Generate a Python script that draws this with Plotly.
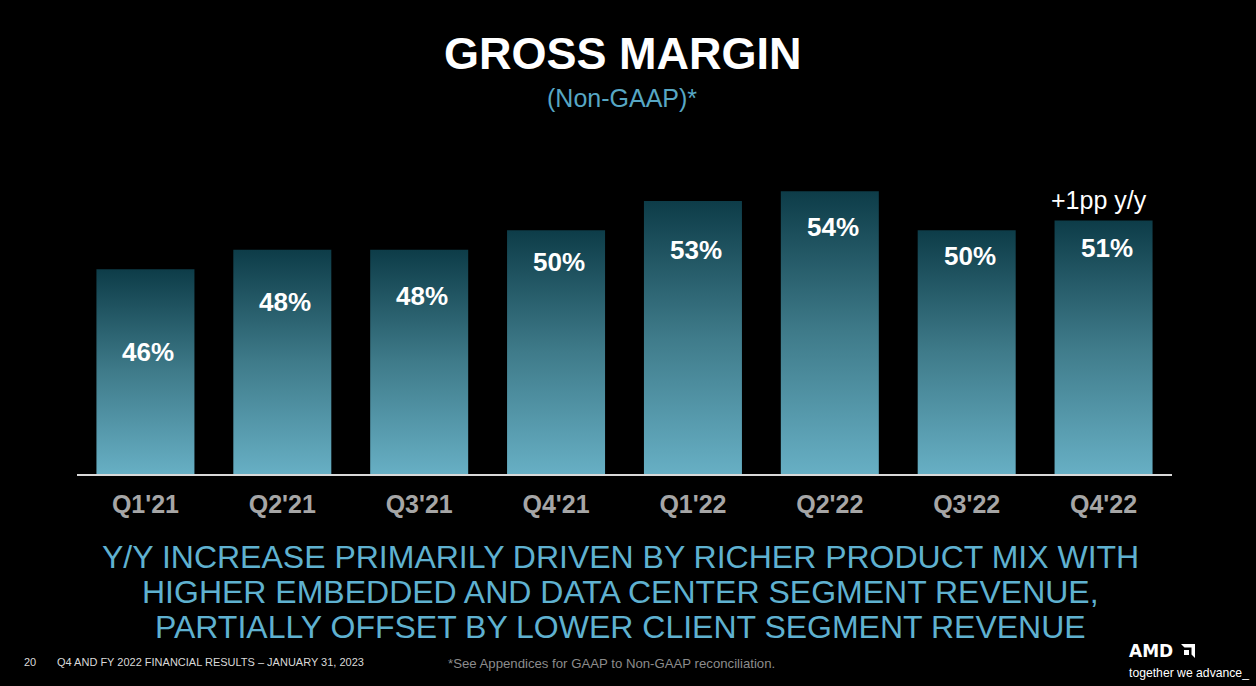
import plotly.graph_objects as go

# ---------------- data ----------------
quarters = ["Q1'21", "Q2'21", "Q3'21", "Q4'21", "Q1'22", "Q2'22", "Q3'22", "Q4'22"]
gross_margin = [46, 48, 48, 50, 53, 54, 50, 51]
value_labels = [f"{v}%" for v in gross_margin]
callout_text = "+1pp y/y"
title_text = "GROSS MARGIN"
subtitle_text = "(Non-GAAP)*"
commentary = [
    "Y/Y INCREASE PRIMARILY DRIVEN BY RICHER PRODUCT MIX WITH",
    "HIGHER EMBEDDED AND DATA CENTER SEGMENT REVENUE,",
    "PARTIALLY OFFSET BY LOWER CLIENT SEGMENT REVENUE",
]
footer_page = "20"
footer_left = "Q4 AND FY 2022 FINANCIAL RESULTS \u2013 JANUARY 31, 2023"
footer_note = "*See Appendices for GAAP to Non-GAAP reconciliation."
brand = "AMD"
tagline = "together we advance_"

# ---------------- layout / style ----------------
W, H = 1256, 686
ML, MR, MT, MB = 77, 84, 150, 212
PW, PH = W - ML - MR, H - MT - MB
Y_MIN = 25
PX_PER_PT = 9.75
Y_MAX = Y_MIN + PH / PX_PER_PT
BAR_HALF = 0.358
LABEL_DROP = [83, 52, 46, 32, 49, 36, 26, 27]
FONT = "Arial, Liberation Sans, sans-serif"
TEAL = "#5fb1d0"
GRAD = [[0, "#67afc4"], [0.5, "#3f7b8a"], [1, "#0d3c48"]]


def px_x(px):
    return (px - ML) / PW


def px_y(py):
    return (H - MB - py) / PH


fig = go.Figure()

for i, v in enumerate(gross_margin):
    fig.add_trace(go.Scatter(
        x=[i - BAR_HALF, i + BAR_HALF, i + BAR_HALF, i - BAR_HALF],
        y=[Y_MIN, Y_MIN, v, v],
        mode="lines", fill="toself",
        line=dict(width=0, color="rgba(0,0,0,0)"),
        fillgradient=dict(type="vertical", colorscale=GRAD),
        hoverinfo="skip", showlegend=False,
    ))

annotations = []
for i, (v, lab) in enumerate(zip(gross_margin, value_labels)):
    annotations.append(dict(
        x=i, y=v, xref="x", yref="y", text=lab, showarrow=False,
        xanchor="center", yanchor="middle", yshift=-LABEL_DROP[i], xshift=3,
        font=dict(family=FONT, size=26, color="white", weight="bold"),
    ))

annotations.append(dict(
    x=len(gross_margin) - 1, y=gross_margin[-1], xref="x", yref="y",
    text=callout_text, showarrow=False, xanchor="center", yanchor="middle",
    yshift=21, xshift=-5, font=dict(family=FONT, size=25, color="white"),
))

annotations += [
    dict(x=px_x(623), y=px_y(53), xref="paper", yref="paper", text=title_text,
         showarrow=False, xanchor="center", yanchor="middle",
         font=dict(family=FONT, size=45, color="white", weight="bold")),
    dict(x=px_x(622), y=px_y(98), xref="paper", yref="paper", text=subtitle_text,
         showarrow=False, xanchor="center", yanchor="middle",
         font=dict(family=FONT, size=25, color="#57a7c4")),
]

for k, line in enumerate(commentary):
    annotations.append(dict(
        x=px_x(620), y=px_y(557 + 35 * k), xref="paper", yref="paper", text=line,
        showarrow=False, xanchor="center", yanchor="middle",
        font=dict(family=FONT, size=32, color=TEAL),
    ))

annotations += [
    dict(x=px_x(22), y=px_y(662), xref="paper", yref="paper", text=footer_page,
         showarrow=False, xanchor="left", yanchor="middle",
         font=dict(family=FONT, size=11, color="#d9d9d9")),
    dict(x=px_x(55), y=px_y(662), xref="paper", yref="paper", text=footer_left,
         showarrow=False, xanchor="left", yanchor="middle",
         font=dict(family=FONT, size=11, color="#d9d9d9")),
    dict(x=px_x(446), y=px_y(663), xref="paper", yref="paper", text=footer_note,
         showarrow=False, xanchor="left", yanchor="middle",
         font=dict(family=FONT, size=13.2, color="#8c8c8c")),
    dict(x=px_x(1127), y=px_y(651), xref="paper", yref="paper", text=brand,
         showarrow=False, xanchor="left", yanchor="middle",
         font=dict(family="DejaVu Sans, sans-serif", size=17, color="white", weight="bold")),
    dict(x=px_x(1127), y=px_y(673), xref="paper", yref="paper", text=tagline,
         showarrow=False, xanchor="left", yanchor="middle",
         font=dict(family=FONT, size=12.2, color="white")),
]


# AMD arrow glyph (logo decoration), pixel box at (x0, y0) size s
def logo_path(pts, x0=1181, y0=644, s=14):
    parts = []
    for j, (a, b) in enumerate(pts):
        parts.append(("M" if j == 0 else "L") + f" {px_x(x0 + a * s / 14):.5f},{px_y(y0 + b * s / 14):.5f}")
    return " ".join(parts) + " Z"


outer = [(0, 0), (14, 0), (14, 14), (10.5, 10.5), (10.5, 3.5), (3.5, 3.5)]
inner = [(3, 6), (8, 6), (8, 11), (3, 11)]
shapes = [
    dict(type="path", xref="paper", yref="paper", path=logo_path(outer),
         fillcolor="white", line=dict(width=0)),
    dict(type="path", xref="paper", yref="paper", path=logo_path(inner),
         fillcolor="white", line=dict(width=0)),
]

fig.update_layout(
    width=W, height=H, autosize=False,
    margin=dict(l=ML, r=MR, t=MT, b=MB, pad=0),
    paper_bgcolor="black", plot_bgcolor="black",
    showlegend=False,
    xaxis=dict(
        range=[-0.5, len(quarters) - 0.5], tickmode="array",
        tickvals=list(range(len(quarters))), ticktext=quarters,
        showgrid=False, zeroline=False, showline=True, linecolor="#d9d9d9", linewidth=1.5,
        ticks="", ticklabelstandoff=7,
        tickfont=dict(family=FONT, size=25, color="#a6a6a6", weight="bold"),
        fixedrange=True,
    ),
    yaxis=dict(range=[Y_MIN, Y_MAX], visible=False, fixedrange=True),
    annotations=annotations,
    shapes=shapes,
)

fig.write_html(
    "out.html",
    config={"displayModeBar": False},
    post_script="document.body.style.margin='0';document.body.style.overflow='hidden';",
)
